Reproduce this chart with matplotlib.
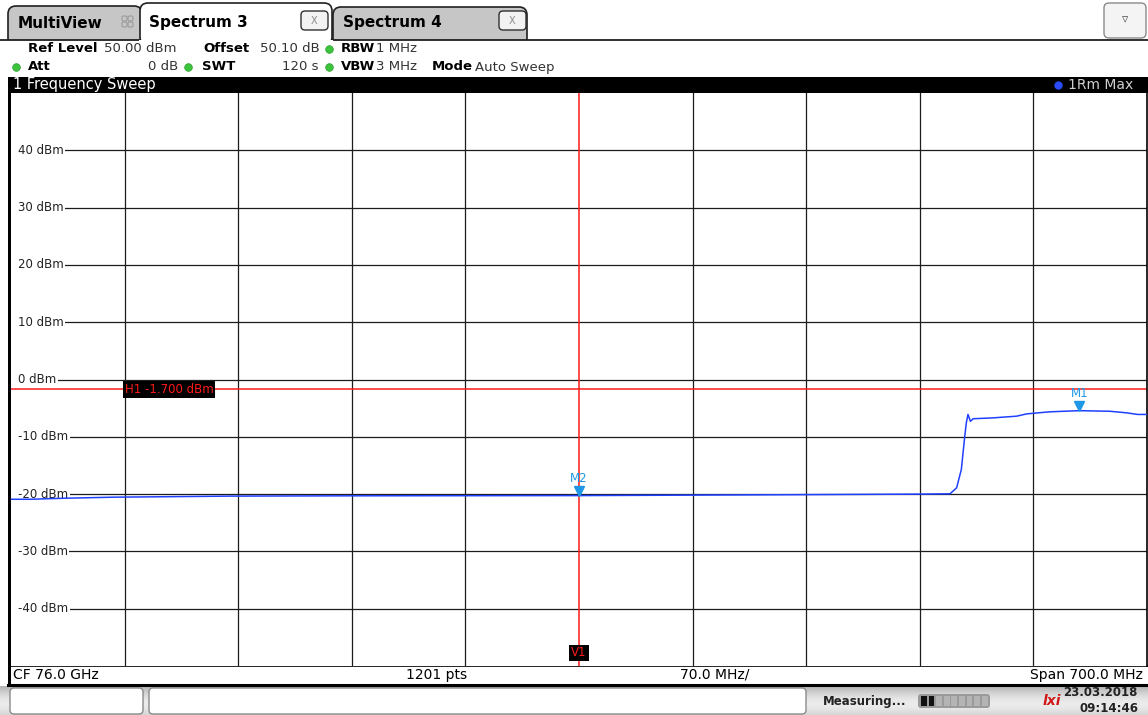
import numpy as np
import matplotlib.pyplot as plt
from matplotlib.patches import Rectangle, FancyBboxPatch
from matplotlib.transforms import offset_copy

# sweep settings
center_ghz = 76.0
span_ghz = 0.7
ref_level = 50.0
db_per_div = 10.0
n_points = 1201

# trace 1 (max hold): frequency in GHz, level in dBm
freq_ghz = [75.650, 75.662, 75.683, 75.713, 75.748, 75.785, 75.859, 76.000, 76.136, 76.210,
            76.2286, 76.2327, 76.2356, 76.2377, 76.2387, 76.2397, 76.2412, 76.2428, 76.2549,
            76.2697, 76.2759, 76.2900, 76.30833, 76.3270, 76.3375, 76.3443, 76.350]
level_dbm = [-20.9, -20.9, -20.72, -20.54, -20.45, -20.35, -20.3, -20.26, -20.1, -20.0,
             -19.95, -18.9, -15.7, -9.9, -7.5, -6.1, -7.3, -6.85, -6.7,
             -6.4, -6.0, -5.64, -5.44, -5.54, -5.82, -6.1, -6.1]

# markers
marker_names = ["M1", "M2"]
marker_freq = [76.308330, 76.000000]
marker_level = [-5.44, -20.26]

# display line H1 and vertical line V1
h1_level = -1.7
v1_freq = 76.0

ytick_levels = [40, 30, 20, 10, 0, -10, -20, -30, -40]

W, H = 1148, 715
fig = plt.figure(figsize=(W / 100, H / 100), dpi=100)
plt.rcParams['font.family'] = ['DejaVu Sans']

# full-window layer in pixel coordinates for the instrument chrome
ui = fig.add_axes([0, 0, 1, 1], zorder=0)
ui.set_xlim(0, W)
ui.set_ylim(H, 0)
ui.axis('off')

def box(x0, y0, x1, y1, fc, ec='none', lw=1.0, r=0, z=1):
    if r:
        p = FancyBboxPatch((x0, y0), x1 - x0, y1 - y0, boxstyle=f"round,pad=0,rounding_size={r}",
                           fc=fc, ec=ec, lw=lw, zorder=z)
    else:
        p = Rectangle((x0, y0), x1 - x0, y1 - y0, fc=fc, ec=ec, lw=lw, zorder=z)
    ui.add_patch(p)

def txt(x, y, s, size=10, weight='normal', color='black', ha='left', **kw):
    ui.text(x, y, s, fontsize=size, fontweight=weight, color=color, ha=ha, va='center', **kw)

# tabs
box(8, 6, 142, 46, '#c6c6c6', ec='#202020', lw=1.2, r=8, z=1)
box(333, 7, 527, 46, '#c6c6c6', ec='#202020', lw=1.2, r=8, z=1)
box(0, 40, W, 50, 'white', z=2)
ui.plot([0, 140], [40, 40], color='#202020', lw=1.3, zorder=3)
ui.plot([332, W], [40, 40], color='#202020', lw=1.3, zorder=3)
box(140, 3, 332, 45, 'white', ec='#202020', lw=1.2, r=8, z=2)
box(139, 40, 333, 50, 'white', z=3)
txt(18, 23, "MultiView", 11, 'bold')
for dx in (0, 6):
    for dy in (0, 6):
        box(122 + dx, 16 + dy, 127 + dx, 21 + dy, 'none', ec='#9a9a9a', lw=0.8, r=1.5, z=3)
txt(149, 22, "Spectrum 3", 11, 'bold')
txt(343, 23, "Spectrum 4", 11, 'bold')
for bx in (301, 499):
    box(bx, 11, bx + 27, 30, '#f2f2f2', ec='#303030', lw=1.0, r=4, z=4)
    txt(bx + 13.5, 20.5, "X", 7, color='#8a8a8a', ha='center', zorder=5)
box(1104, 3, 1146, 38, '#f4f4f4', ec='#8a8a8a', lw=1.0, r=5, z=2)
txt(1125, 20, "\u25bf", 9, color='#555555', ha='center')

# settings header
green = '#3cc43c'
hs = 9.5
txt(28, 49, "Ref Level", hs, 'bold', zorder=4)
txt(104, 49, "50.00 dBm", hs, color='#333333', zorder=4)
txt(203, 49, "Offset", hs, 'bold', zorder=4)
txt(260, 49, "50.10 dB", hs, color='#333333', zorder=4)
txt(341, 49, "RBW", hs, 'bold', zorder=4)
txt(376, 49, "1 MHz", hs, color='#333333', zorder=4)
txt(28, 67, "Att", hs, 'bold', zorder=4)
txt(178, 67, "0 dB", hs, color='#333333', ha='right', zorder=4)
txt(202, 67, "SWT", hs, 'bold', zorder=4)
txt(318, 67, "120 s", hs, color='#333333', ha='right', zorder=4)
txt(341, 67, "VBW", hs, 'bold', zorder=4)
txt(376, 67, "3 MHz", hs, color='#333333', zorder=4)
txt(432, 67, "Mode", hs, 'bold', zorder=4)
txt(475, 67, "Auto Sweep", hs, color='#333333', zorder=4)
for gx, gy in [(329, 49), (16, 67), (188, 67), (329, 67)]:
    ui.plot(gx, gy, 'o', ms=5.5, color=green, mec='#2a9a2a', mew=0.5, zorder=4)

# window title bar
box(8, 77, W, 93, 'black', z=2)
txt(13, 85, "1 Frequency Sweep", 10.5, color='white', zorder=3)
txt(1133, 85, "1Rm Max", 10, color='#cfcfcf', ha='right', zorder=3)
ui.plot(1058, 85, 'o', ms=5, color='#2a4cff', zorder=4)
box(8, 77, 11, 685, 'black', z=2)

# bottom info bar
box(11, 666, W, 684, 'white', z=2)
ui.plot([11, W], [666, 666], color='black', lw=1.2, zorder=3)
ui.plot([8, W], [684.5, 684.5], color='black', lw=2.2, zorder=3)
txt(13, 675, f"CF {center_ghz:.1f} GHz", 10, zorder=3)
txt(437, 675, f"{n_points} pts", 10, ha='center', zorder=3)
txt(715, 675, f"{span_ghz * 1000 / 10:.1f} MHz/", 10, ha='center', zorder=3)
txt(1143, 675, f"Span {span_ghz * 1000:.1f} MHz", 10, ha='right', zorder=3)

# status bar
grad = np.linspace(0, 1, 30)[:, None]
grad = 0.70 + 0.22 * np.sin(grad * np.pi * 0.8)
ui.imshow(np.repeat(grad, 2, axis=1), cmap='gray', vmin=0, vmax=1, aspect='auto',
          extent=(0, W, H, 686), origin='upper', zorder=1)
ui.set_xlim(0, W)
ui.set_ylim(H, 0)
box(10, 688, 143, 714, 'white', ec='#8a8a8a', lw=1.0, r=4, z=2)
box(149, 688, 806, 714, 'white', ec='#8a8a8a', lw=1.0, r=4, z=2)
txt(823, 701, "Measuring...", 8.5, 'bold', color='#222222', zorder=3)
box(918, 694, 990, 708, '#9a9a9a', r=3, z=2)
for i in range(9):
    sx = 921 + i * 7.6
    box(sx, 696, sx + 5.8, 706, '#111111' if i < 2 else '#b4b4b4', z=3)
txt(1052, 701, "lxi", 10, 'bold', color='#d01818', ha='center', style='italic', zorder=3)
txt(1138, 693, "23.03.2018", 8.5, 'bold', color='#222222', ha='right', zorder=3)
txt(1138, 709, "09:14:46", 8.5, 'bold', color='#222222', ha='right', zorder=3)

# measurement diagram
ax = fig.add_axes([11 / W, 1 - 666 / H, 1136 / W, 573 / H], zorder=2)
f0 = center_ghz - span_ghz / 2
f1 = center_ghz + span_ghz / 2
ax.set_xlim(f0, f1)
ax.set_ylim(ref_level - 10 * db_per_div, ref_level)
ax.set_xticks([])
ax.set_yticks([])
for s in ax.spines.values():
    s.set_visible(False)
ax.spines['right'].set_visible(True)
ax.spines['right'].set_linewidth(1.2)

grid_col = '#1c1c1c'
for k in range(1, 10):
    if k == 5:
        continue  # covered by V1
    ax.axvline(f0 + k * span_ghz / 10, color=grid_col, lw=0.9, zorder=1)
for lvl in ytick_levels:
    ax.axhline(lvl, xmin=0.005, color=grid_col, lw=0.9, zorder=1)
    ax.text(0.006, lvl, f"{lvl} dBm", transform=ax.get_yaxis_transform(), fontsize=8.5,
            color='#222222', ha='left', va='center',
            bbox=dict(fc='white', ec='none', pad=1.2), zorder=3)

red = '#ff1a1a'
ax.axhline(h1_level, color=red, lw=1.1, zorder=2)
ax.text(f0 + span_ghz / 10, h1_level, f"H1 {h1_level:.3f} dBm", fontsize=8.5, color=red,
        ha='left', va='center', bbox=dict(fc='black', ec='none', pad=1.3), zorder=5)
ax.axvline(v1_freq, color=red, lw=1.1, zorder=2)
ax.text(v1_freq, -47.7, "V1", fontsize=8.5, color=red, ha='center', va='center',
        bbox=dict(fc='black', ec='none', pad=1.3), zorder=5)

ax.plot(freq_ghz, level_dbm, color='#2040ff', lw=1.1, zorder=4)

mcol = '#1e98e6'
tri = offset_copy(ax.transData, fig=fig, y=4.5, units='dots')
for name, f, l in zip(marker_names, marker_freq, marker_level):
    ax.plot(f, l, marker='v', ms=6.5, color=mcol, transform=tri, zorder=6)
    ax.annotate(name, (f, l), xytext=(0, 17), textcoords='offset pixels', ha='center',
                va='center', fontsize=8.5, color=mcol, zorder=6)

# marker table
for i, (name, f, l) in enumerate(zip(marker_names, marker_freq, marker_level)):
    y0 = 104 + i * 42
    txt(1013, y0, f"{name}[1]", 10, color=mcol, ha='right', zorder=5)
    txt(1143, y0, f"{l:.2f} dBm", 10, color=mcol, ha='right', zorder=5)
    txt(1143, y0 + 21, f"{f:.6f} GHz", 10, color=mcol, ha='right', zorder=5)

fig.savefig('out.png', dpi=100)
